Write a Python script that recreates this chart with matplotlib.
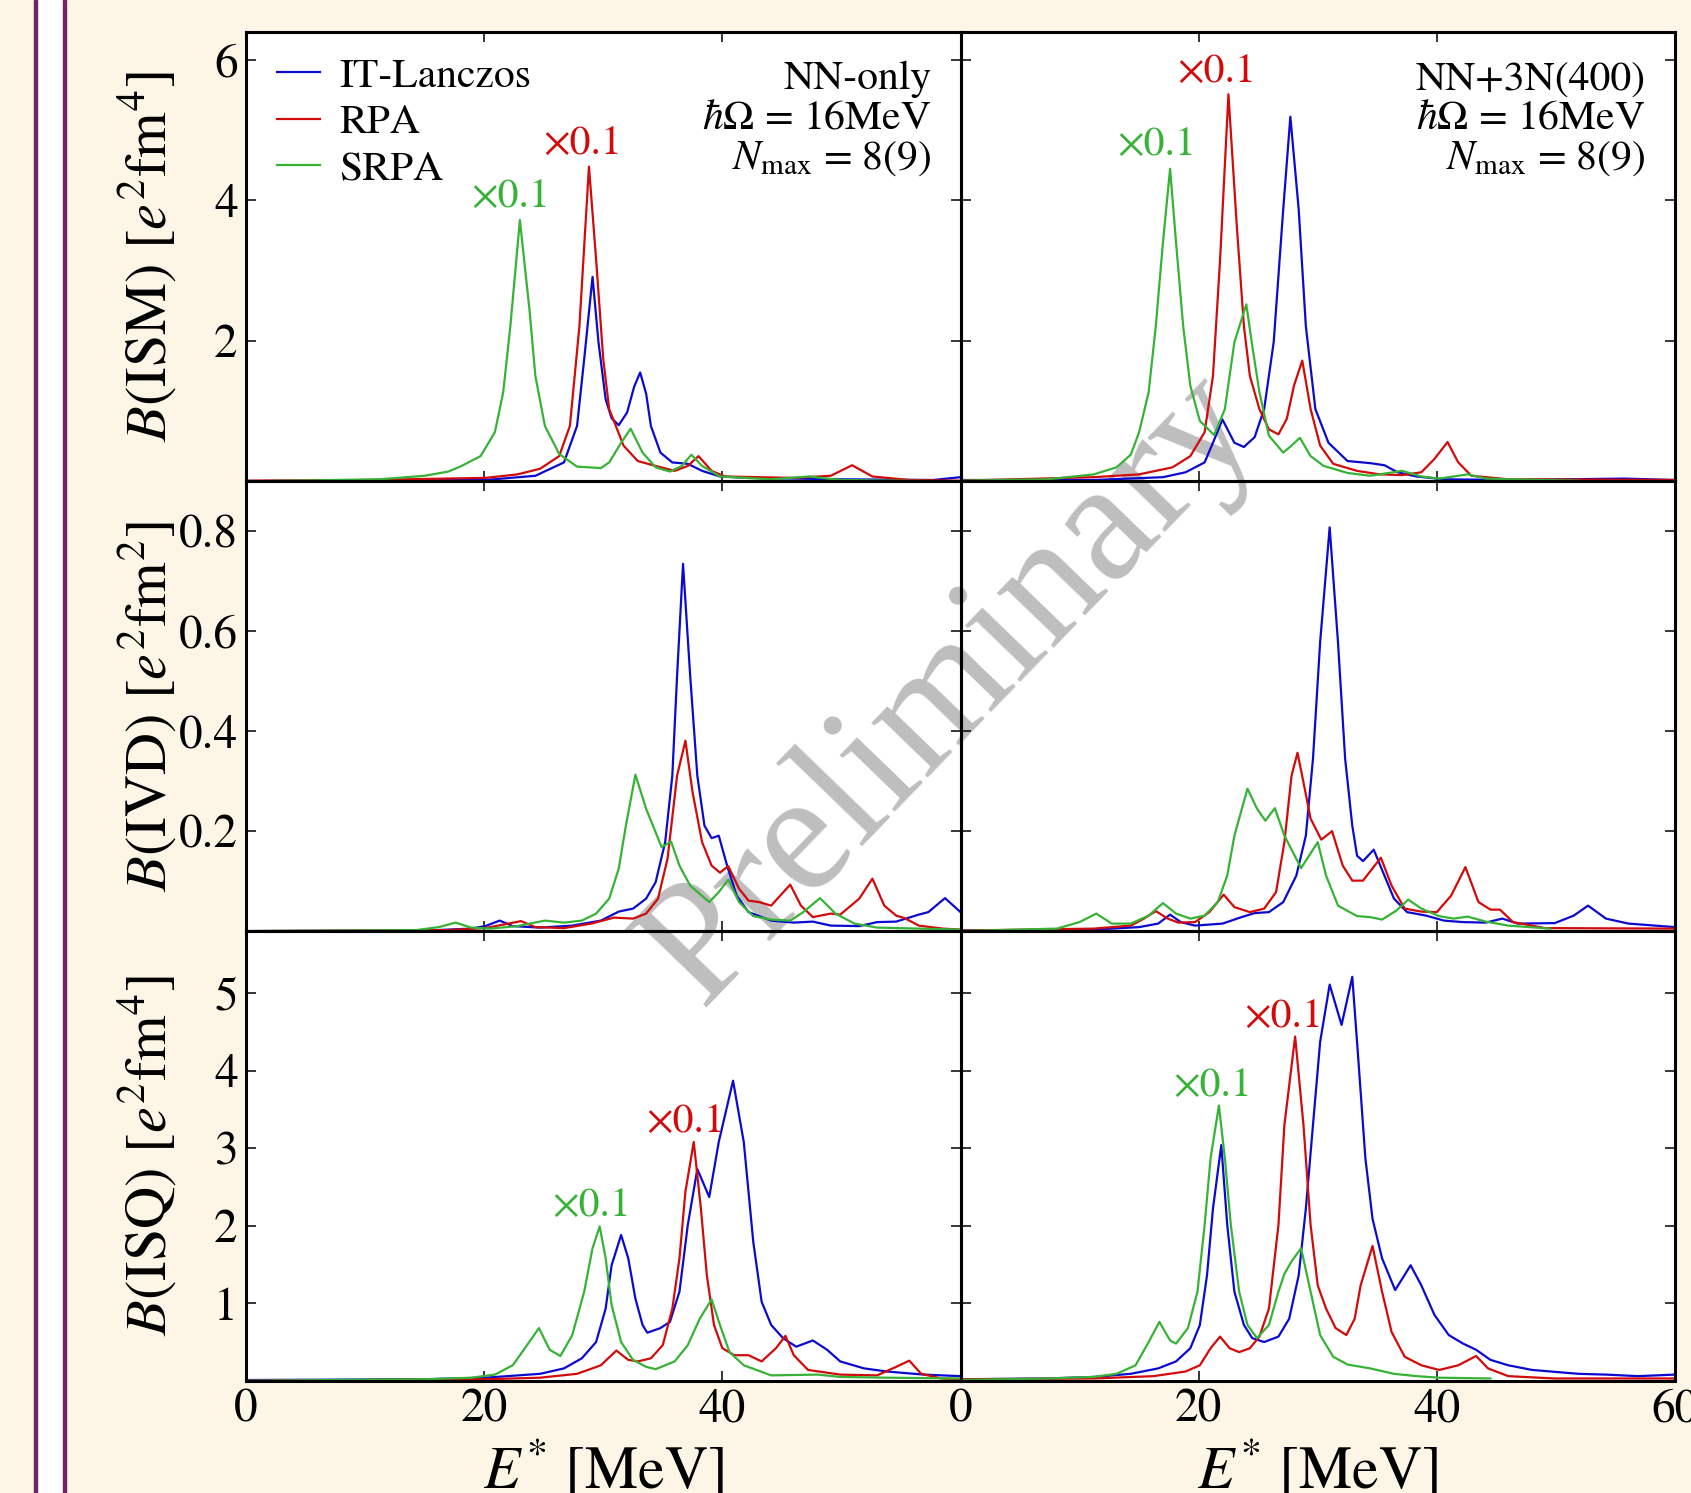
import matplotlib
matplotlib.use('Agg')
import matplotlib.pyplot as plt
from matplotlib.patches import Rectangle

plt.rcParams['font.family'] = ['STIXGeneral', 'DejaVu Serif']
plt.rcParams['mathtext.fontset'] = 'stix'

# strength functions, E* [MeV] and B
# ISM, NN-only
ism_nn_lanczos_e = [0, 10, 20.1, 24.3, 26.7, 27.8, 28.4, 29.1, 29.6, 30.2, 30.7, 31.3, 32.0, 32.6, 33.1, 33.6, 34.0, 34.8,
                    35.8, 37.1, 38.3, 39.8, 42.2, 49.9, 57.7, 60]
ism_nn_lanczos_b = [0.005, 0.01, 0.02, 0.08, 0.27, 0.79, 1.74, 2.91, 1.98, 1.17, 0.90, 0.80, 0.98, 1.35, 1.55, 1.25, 0.79,
                    0.41, 0.27, 0.25, 0.15, 0.07, 0.05, 0.03, 0.02, 0.06]
ism_nn_rpa_e = [0, 10, 20.1, 22.8, 24.7, 26.3, 27.2, 28.0, 28.8, 29.4, 30.0, 30.5, 31.7, 32.9, 34.4, 36.0, 37.1, 38.0, 39.1,
                40.2, 46.0, 49.1, 50.9, 52.6, 55.7, 60]
ism_nn_rpa_b = [0.01, 0.02, 0.05, 0.10, 0.18, 0.36, 0.79, 2.21, 4.48, 3.16, 1.74, 1.03, 0.51, 0.29, 0.22, 0.15, 0.22, 0.36,
                0.15, 0.07, 0.05, 0.08, 0.23, 0.07, 0.02, 0.01]
ism_nn_srpa_e = [0, 11.2, 15.0, 17.0, 18.1, 19.7, 20.9, 21.6, 22.2, 23.0, 23.8, 24.3, 25.1, 26.3, 27.8, 29.8, 30.5, 31.5,
                 32.3, 33.3, 34.4, 35.6, 36.6, 37.4, 38.3, 39.8, 44.1, 47.3, 49.9, 60]
ism_nn_srpa_b = [0.0, 0.03, 0.08, 0.14, 0.22, 0.36, 0.70, 1.27, 2.21, 3.72, 2.45, 1.50, 0.79, 0.39, 0.21, 0.19, 0.27, 0.55,
                 0.75, 0.41, 0.20, 0.14, 0.22, 0.38, 0.22, 0.07, 0.03, 0.07, 0.02, 0.0]

# ISM, NN+3N(400)
ism_3n_lanczos_e = [0, 11.2, 17.0, 18.9, 20.5, 21.2, 22.0, 23.0, 23.8, 24.7, 25.5, 26.3, 27.1, 27.7, 28.4, 29.0, 29.8, 30.9,
                    32.5, 34.4, 35.6, 36.7, 38.3, 40.6, 46.0, 55.7, 60]
ism_3n_lanczos_b = [0.02, 0.02, 0.06, 0.13, 0.27, 0.55, 0.88, 0.55, 0.49, 0.63, 1.03, 1.98, 3.87, 5.19, 3.87, 2.21, 1.03,
                    0.55, 0.29, 0.26, 0.23, 0.13, 0.07, 0.03, 0.02, 0.04, 0.02]
ism_3n_rpa_e = [0, 11.2, 15.0, 17.8, 19.3, 20.5, 21.2, 21.8, 22.5, 23.2, 23.8, 24.3, 25.1, 25.9, 26.7, 27.4, 28.0, 28.7,
                29.4, 30.2, 31.3, 33.3, 35.2, 37.1, 38.7, 39.8, 40.9, 41.8, 42.9, 46.0, 60]
ism_3n_rpa_b = [0.01, 0.06, 0.10, 0.20, 0.36, 0.70, 1.50, 3.16, 5.51, 3.64, 2.21, 1.50, 1.03, 0.74, 0.67, 0.89, 1.36, 1.72,
                1.03, 0.51, 0.25, 0.15, 0.10, 0.09, 0.13, 0.32, 0.56, 0.27, 0.08, 0.03, 0.02]
ism_3n_srpa_e = [0, 7.3, 11.2, 13.1, 14.3, 15.0, 15.8, 16.4, 17.0, 17.6, 18.1, 18.7, 19.3, 20.1, 21.3, 22.2, 23.0, 24.0,
                 24.5, 25.1, 25.9, 27.1, 27.8, 28.5, 29.4, 30.5, 32.5, 34.4, 37.1, 38.7, 40.2, 42.6, 44.1, 46.0, 52]
ism_3n_srpa_b = [0.01, 0.03, 0.10, 0.20, 0.38, 0.70, 1.27, 2.21, 3.40, 4.45, 3.40, 2.21, 1.36, 0.86, 0.66, 1.03, 1.98,
                 2.52, 1.93, 1.27, 0.65, 0.41, 0.51, 0.62, 0.36, 0.22, 0.12, 0.08, 0.15, 0.07, 0.04, 0.10, 0.04, 0.03,
                 0.01]

# IVD, NN-only
ivd_nn_lanczos_e = [0, 15, 18.9, 20.1, 21.3, 22.4, 24.7, 27.4, 29.8, 31.3, 32.5, 33.6, 34.4, 35.2, 35.8, 36.2, 36.7, 37.3,
                    37.9, 38.5, 39.1, 39.7, 40.4, 41.2, 42.2, 44.1, 46.0, 47.6, 49.1, 51.5, 53.0, 54.6, 56.5, 57.3, 58.7,
                    60]
ivd_nn_lanczos_b = [0.0, 0.001, 0.005, 0.010, 0.021, 0.010, 0.007, 0.011, 0.021, 0.039, 0.045, 0.065, 0.098, 0.178, 0.311,
                    0.511, 0.735, 0.511, 0.311, 0.211, 0.186, 0.191, 0.131, 0.071, 0.038, 0.021, 0.017, 0.019, 0.011,
                    0.010, 0.018, 0.019, 0.033, 0.038, 0.066, 0.038]
ivd_nn_rpa_e = [0, 17, 20.1, 21.6, 23.1, 24.3, 26.7, 29.0, 30.9, 32.5, 33.6, 34.6, 35.4, 36.2, 36.9, 37.5, 38.3, 39.1, 39.8,
                40.5, 41.4, 42.2, 43.1, 44.1, 45.7, 46.6, 47.6, 49.1, 49.9, 51.5, 52.6, 53.6, 54.6, 55.3, 56.5, 58.5, 60]
ivd_nn_rpa_b = [0.0, 0.002, 0.006, 0.013, 0.020, 0.008, 0.006, 0.015, 0.027, 0.025, 0.035, 0.065, 0.145, 0.311, 0.381,
                0.278, 0.178, 0.131, 0.117, 0.130, 0.085, 0.061, 0.058, 0.051, 0.093, 0.051, 0.028, 0.035, 0.033, 0.065,
                0.105, 0.051, 0.031, 0.026, 0.011, 0.005, 0.003]
ivd_nn_srpa_e = [0, 14.3, 16.2, 17.6, 18.9, 20.5, 22.8, 25.1, 26.7, 28.2, 29.4, 30.5, 31.3, 31.9, 32.7, 33.6, 34.9, 35.7,
                 36.4, 37.3, 38.9, 39.7, 40.5, 41.4, 42.6, 44.1, 45.7, 46.8, 48.2, 49.5, 51.1, 53.0, 60]
ivd_nn_srpa_b = [0.0, 0.002, 0.008, 0.017, 0.007, 0.005, 0.010, 0.021, 0.017, 0.021, 0.035, 0.065, 0.125, 0.211, 0.313,
                 0.245, 0.168, 0.179, 0.131, 0.091, 0.058, 0.078, 0.103, 0.058, 0.030, 0.023, 0.021, 0.038, 0.066, 0.035,
                 0.015, 0.007, 0.003]

# IVD, NN+3N(400)
ivd_3n_lanczos_e = [0, 11.2, 15.0, 16.6, 17.6, 18.5, 19.7, 22.0, 23.6, 24.7, 25.9, 27.1, 28.2, 29.0, 29.6, 30.2, 31.0, 31.7,
                    32.3, 32.9, 33.3, 33.8, 34.7, 35.6, 36.4, 37.5, 39.1, 40.6, 42.2, 44.1, 45.5, 46.8, 49.9, 51.5, 52.7,
                    54.2, 56.1, 60]
ivd_3n_lanczos_b = [0.001, 0.003, 0.008, 0.015, 0.033, 0.018, 0.011, 0.015, 0.028, 0.036, 0.038, 0.058, 0.111, 0.191, 0.345,
                    0.578, 0.808, 0.578, 0.345, 0.211, 0.151, 0.140, 0.163, 0.111, 0.065, 0.038, 0.031, 0.021, 0.018,
                    0.017, 0.025, 0.015, 0.016, 0.031, 0.051, 0.025, 0.015, 0.008]
ivd_3n_rpa_e = [0, 11.2, 14.3, 15.4, 16.4, 17.4, 18.3, 19.7, 20.9, 22.1, 23.0, 24.3, 25.5, 26.5, 27.2, 27.8, 28.3, 28.8,
                29.4, 30.3, 31.2, 32.1, 32.9, 33.8, 35.3, 36.2, 37.3, 38.7, 40.0, 41.2, 42.4, 43.5, 44.5, 45.3, 46.4, 49.1,
                60]
ivd_3n_rpa_b = [0.001, 0.005, 0.011, 0.025, 0.040, 0.025, 0.017, 0.018, 0.038, 0.073, 0.048, 0.038, 0.045, 0.078, 0.178,
                0.311, 0.357, 0.298, 0.225, 0.183, 0.200, 0.131, 0.101, 0.101, 0.147, 0.091, 0.045, 0.039, 0.038, 0.071,
                0.128, 0.058, 0.043, 0.043, 0.018, 0.006, 0.005]
ivd_3n_srpa_e = [0, 8.1, 10.0, 11.4, 12.7, 14.3, 15.8, 17.0, 18.1, 19.3, 20.5, 21.6, 22.4, 23.0, 24.1, 24.9, 25.6, 26.4,
                 27.2, 28.6, 30.0, 30.7, 31.7, 33.3, 34.4, 35.4, 36.6, 37.6, 38.7, 40.2, 41.4, 42.6, 44.1, 46.0, 49.5]
ivd_3n_srpa_b = [0.0, 0.005, 0.018, 0.035, 0.015, 0.015, 0.031, 0.056, 0.035, 0.025, 0.031, 0.058, 0.111, 0.191, 0.285,
                 0.245, 0.221, 0.246, 0.191, 0.126, 0.178, 0.111, 0.051, 0.030, 0.028, 0.023, 0.041, 0.063, 0.045, 0.030,
                 0.025, 0.029, 0.019, 0.011, 0.005]

# ISQ, NN-only
isq_nn_lanczos_e = [0, 15.0, 20.1, 24.7, 26.7, 28.2, 29.4, 30.2, 30.7, 31.5, 32.1, 32.7, 33.3, 33.7, 34.8, 35.6, 36.4, 37.1,
                    37.9, 38.9, 39.7, 40.9, 41.8, 42.6, 43.3, 44.1, 45.1, 46.2, 47.6, 48.8, 49.9, 51.9, 53.8, 56.9, 60]
isq_nn_lanczos_b = [0.01, 0.02, 0.04, 0.09, 0.16, 0.29, 0.50, 0.93, 1.49, 1.88, 1.58, 1.06, 0.72, 0.62, 0.68, 0.76, 1.15,
                    2.01, 2.73, 2.37, 3.08, 3.87, 3.08, 1.79, 1.02, 0.72, 0.55, 0.44, 0.52, 0.40, 0.25, 0.16, 0.12, 0.08,
                    0.06]
isq_nn_rpa_e = [0, 20.1, 24.7, 27.8, 29.8, 31.1, 32.1, 32.9, 34.0, 35.0, 35.8, 36.4, 36.9, 37.6, 38.2, 38.7, 39.3, 40.0,
                41.0, 42.2, 43.3, 44.5, 45.3, 46.0, 47.2, 49.9, 53.0, 54.6, 55.7, 56.7, 58.4, 60]
isq_nn_rpa_b = [0.0, 0.02, 0.04, 0.09, 0.20, 0.39, 0.27, 0.25, 0.29, 0.46, 0.93, 1.58, 2.44, 3.08, 2.22, 1.36, 0.72, 0.42,
                0.33, 0.33, 0.25, 0.42, 0.58, 0.33, 0.14, 0.08, 0.07, 0.18, 0.26, 0.09, 0.03, 0.02]
isq_nn_srpa_e = [0, 15.0, 18.9, 20.9, 22.4, 23.6, 24.6, 25.5, 26.4, 27.4, 28.4, 29.1, 29.7, 30.2, 30.7, 31.5, 32.5, 33.6,
                 34.4, 36.0, 37.1, 38.1, 39.1, 39.8, 40.6, 41.8, 44.1, 48.0, 49.9, 53.8, 60]
isq_nn_srpa_b = [0.0, 0.02, 0.04, 0.08, 0.20, 0.46, 0.68, 0.40, 0.32, 0.59, 1.15, 1.71, 1.99, 1.58, 0.98, 0.50, 0.27, 0.18,
                 0.15, 0.25, 0.46, 0.80, 1.05, 0.72, 0.37, 0.20, 0.07, 0.08, 0.05, 0.04, 0.03]

# ISQ, NN+3N(400)
isq_3n_lanczos_e = [0, 7.3, 11.2, 14.3, 16.6, 18.1, 19.3, 20.1, 20.7, 21.2, 21.9, 22.4, 23.0, 23.8, 24.5, 25.5, 26.7, 27.6,
                    28.4, 29.0, 29.6, 30.2, 31.0, 32.0, 32.9, 33.4, 34.0, 34.6, 35.4, 36.5, 37.8, 38.7, 39.8, 41.0, 42.2,
                    43.3, 44.5, 46.0, 48.0, 51.9, 54.2, 56.9, 60]
isq_3n_lanczos_b = [0.02, 0.03, 0.05, 0.09, 0.16, 0.25, 0.42, 0.72, 1.36, 2.22, 3.04, 2.01, 1.15, 0.72, 0.55, 0.50, 0.57,
                    0.80, 1.36, 2.22, 3.30, 4.37, 5.11, 4.59, 5.21, 4.16, 2.87, 2.09, 1.58, 1.17, 1.49, 1.23, 0.85, 0.59,
                    0.48, 0.40, 0.27, 0.20, 0.14, 0.09, 0.08, 0.06, 0.08]
isq_3n_rpa_e = [0, 11.2, 16.2, 18.9, 20.1, 21.0, 21.8, 22.6, 23.4, 24.3, 25.1, 25.9, 26.7, 27.2, 28.1, 28.8, 29.4, 30.0,
                30.7, 31.5, 32.4, 33.1, 33.6, 34.6, 35.4, 36.2, 37.3, 38.7, 40.2, 41.8, 43.3, 44.3, 46.0, 49.9, 60]
isq_3n_rpa_b = [0.02, 0.03, 0.06, 0.12, 0.20, 0.42, 0.57, 0.42, 0.37, 0.42, 0.57, 0.93, 2.01, 3.30, 4.44, 3.30, 2.01, 1.23,
                0.93, 0.68, 0.59, 0.80, 1.23, 1.74, 1.15, 0.63, 0.31, 0.20, 0.14, 0.20, 0.32, 0.16, 0.06, 0.03, 0.03]
isq_3n_srpa_e = [0, 7.3, 11.2, 13.1, 14.7, 15.8, 16.7, 17.6, 18.1, 19.1, 19.9, 20.5, 21.0, 21.7, 22.2, 22.7, 23.4, 24.1,
                 24.9, 25.9, 26.7, 27.2, 27.8, 28.6, 29.4, 30.2, 31.3, 32.5, 34.4, 36.4, 38.3, 40.2, 44.5]
isq_3n_srpa_b = [0.01, 0.03, 0.05, 0.09, 0.20, 0.50, 0.76, 0.52, 0.48, 0.68, 1.15, 2.01, 2.87, 3.55, 2.87, 2.01, 1.15, 0.72,
                 0.55, 0.72, 1.15, 1.38, 1.54, 1.71, 1.15, 0.59, 0.31, 0.21, 0.16, 0.09, 0.06, 0.04, 0.03]

methods = ['IT-Lanczos', 'RPA', 'SRPA']
colors = ['#0A0AD2', '#D20A0A', '#36B336']

panels = [
    [(ism_nn_lanczos_e, ism_nn_lanczos_b), (ism_nn_rpa_e, ism_nn_rpa_b), (ism_nn_srpa_e, ism_nn_srpa_b)],
    [(ism_3n_lanczos_e, ism_3n_lanczos_b), (ism_3n_rpa_e, ism_3n_rpa_b), (ism_3n_srpa_e, ism_3n_srpa_b)],
    [(ivd_nn_lanczos_e, ivd_nn_lanczos_b), (ivd_nn_rpa_e, ivd_nn_rpa_b), (ivd_nn_srpa_e, ivd_nn_srpa_b)],
    [(ivd_3n_lanczos_e, ivd_3n_lanczos_b), (ivd_3n_rpa_e, ivd_3n_rpa_b), (ivd_3n_srpa_e, ivd_3n_srpa_b)],
    [(isq_nn_lanczos_e, isq_nn_lanczos_b), (isq_nn_rpa_e, isq_nn_rpa_b), (isq_nn_srpa_e, isq_nn_srpa_b)],
    [(isq_3n_lanczos_e, isq_3n_lanczos_b), (isq_3n_rpa_e, isq_3n_rpa_b), (isq_3n_srpa_e, isq_3n_srpa_b)],
]

ylabels = [r'$B$(ISM) [$e^2$fm$^4$]', r'$B$(IVD) [$e^2$fm$^2$]', r'$B$(ISQ) [$e^2$fm$^4$]']
ylims = [6.4, 0.9, 5.8]
yticks = [[2, 4, 6], [0.2, 0.4, 0.6, 0.8], [1, 2, 3, 4, 5]]
ytick_labels = [['2', '4', '6'], ['0.2', '0.4', '0.6', '0.8'], ['1', '2', '3', '4', '5']]
interactions = ['NN-only', 'NN+3N(400)']
params_text = '\n' + r'$\hbar\Omega$ = 16MeV' + '\n' + r'$N_{\rm max}$ = 8(9)'

# "x0.1" scale notes: (panel index, method index, E, B)
scale_notes = [(0, 2, 22.2, 4.05), (0, 1, 28.3, 4.8), (1, 2, 16.5, 4.78), (1, 1, 21.5, 5.82),
               (4, 2, 29.0, 2.25), (4, 1, 36.9, 3.34), (5, 2, 21.2, 3.80), (5, 1, 27.1, 4.69)]

W, H = 1691, 1493
fig = plt.figure(figsize=(W / 100, H / 100), dpi=100, facecolor='#FDF5E6')

# page decoration on the left
fig.add_artist(Rectangle((37 / W, 0), 25.5 / W, 1, transform=fig.transFigure, color='white', zorder=-3))
for xp in (34, 62.5):
    fig.add_artist(Rectangle((xp / W, 0), 3.3 / W, 1, transform=fig.transFigure, color='#702466', zorder=-3))

x0, xm, x1 = 246, 960.5, 1675
y_top, row_h = 31.7, 449.7
fig.add_artist(Rectangle((x0 / W, 1 - (y_top + 3 * row_h) / H), (x1 - x0) / W, 3 * row_h / H,
                         transform=fig.transFigure, color='white', zorder=-2))
fig.text(952 / W, 1 - 690 / H, 'Preliminary', rotation=46, ha='center', va='center',
         fontsize=123, color='#BEBEBE', zorder=-1, family='Liberation Serif')

axes = []
for r in range(3):
    for c in range(2):
        left = (x0 if c == 0 else xm) / W
        width = ((xm - x0) if c == 0 else (x1 - xm)) / W
        bottom = 1 - (y_top + (r + 1) * row_h) / H
        ax = fig.add_axes([left, bottom, width, row_h / H])
        ax.set_facecolor('none')
        axes.append(ax)
        for (e, b), col, name in zip(panels[2 * r + c], colors, methods):
            ax.plot(e, b, color=col, lw=1.6, label=name)
        ax.set_xlim(0, 60)
        ax.set_ylim(0, ylims[r])
        for s in ax.spines.values():
            s.set_linewidth(2.2)
        ax.tick_params(direction='in', length=7, width=1.1, top=True, right=True,
                       labelsize=34, pad=6)
        ax.set_yticks(yticks[r])
        if c == 0:
            ax.set_yticklabels(ytick_labels[r])
        else:
            ax.set_yticklabels([])
        if r == 2:
            if c == 0:
                ax.set_xticks([0, 20, 40], ['0', '20', '40'])
            else:
                ax.set_xticks([0, 20, 40, 60], ['0', '20', '40', '60'])
        else:
            ax.set_xticks([20, 40])
            ax.set_xticklabels([])

for p, m, e, b in scale_notes:
    axes[p].text(e, b, '\u00d70.1', color=colors[m], fontsize=30, ha='center', va='center')

for c in range(2):
    axes[c].text(0.959, 0.935, interactions[c] + params_text, transform=axes[c].transAxes,
                 ha='right', va='top', fontsize=30, linespacing=1.07, multialignment='right')

axes[0].legend(loc='upper left', bbox_to_anchor=(0.043, 0.942), frameon=False, fontsize=30,
               handlelength=1.05, handletextpad=0.45, labelspacing=0.2, borderaxespad=0, borderpad=0)

for r in range(3):
    fig.text(148 / W, 1 - (y_top + (r + 0.5) * row_h) / H, ylabels[r], rotation=90,
             ha='center', va='center', fontsize=42)
for c in range(2):
    xc = ((x0 + xm) / 2 if c == 0 else (xm + x1) / 2) / W
    fig.text(xc, 1 - 1488 / H, r'$E^{*}$ [MeV]', ha='center', va='baseline', fontsize=43)

fig.savefig('out.png', dpi=100, facecolor=fig.get_facecolor())
